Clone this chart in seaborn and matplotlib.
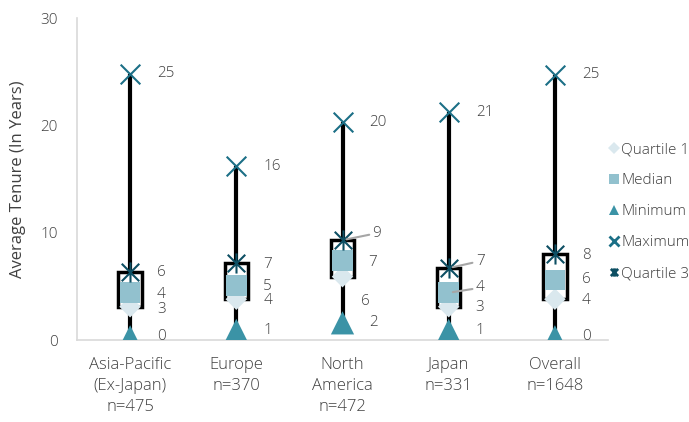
import matplotlib
matplotlib.use("Agg")
import matplotlib.pyplot as plt
from matplotlib.lines import Line2D
from matplotlib.path import Path
import seaborn as sns
import pandas as pd

regions = ["Asia-Pacific\n(Ex-Japan)\nn=475", "Europe\nn=370", "North\nAmerica\nn=472",
           "Japan\nn=331", "Overall\nn=1648"]
minimum = [0.3, 0.9, 1.6, 0.9, 0.3]
quartile1 = [3.1, 3.8, 5.9, 3.1, 3.8]
median = [4.4, 5.1, 7.4, 4.4, 5.6]
quartile3 = [6.3, 7.2, 9.3, 6.7, 8.0]
maximum = [24.8, 16.2, 20.3, 21.2, 24.7]

# star marker: an "x" crossed by a vertical stroke
star = Path([(-1, -1), (1, 1), (-1, 1), (1, -1), (0, -1.15), (0, 1.15)],
            [Path.MOVETO, Path.LINETO, Path.MOVETO, Path.LINETO, Path.MOVETO, Path.LINETO])

stats = ["Quartile 1", "Median", "Minimum", "Maximum", "Quartile 3"]
series = {"Quartile 1": quartile1, "Median": median, "Minimum": minimum,
          "Maximum": maximum, "Quartile 3": quartile3}
colors = {"Quartile 1": "#dae8ee", "Median": "#92c1ce", "Minimum": "#3b93a6",
          "Maximum": "#1b6f86", "Quartile 3": "#0d4f63"}
markers = {"Quartile 1": "D", "Median": "s", "Minimum": "^",
           "Maximum": "x", "Quartile 3": star}
sizes = {"Quartile 1": 120, "Median": 220, "Minimum": 280, "Maximum": 200, "Quartile 3": 210}

sns.set_theme(style="white")
plt.rcParams["font.family"] = ["Open Sans", "DejaVu Sans"]
plt.rcParams["font.weight"] = "light"
text_color = "#404040"

fig = plt.figure(figsize=(6.89, 4.22), dpi=100)
ax = fig.add_axes([77 / 689, 82 / 422, 531 / 689, 322 / 422])

xs = list(range(len(regions)))

# high-low lines
ax.vlines(xs, minimum, maximum, color="black", lw=3, zorder=1)
# quartile boxes
ax.bar(xs, [q3 - q1 for q1, q3 in zip(quartile1, quartile3)], bottom=quartile1,
       width=0.22, color="white", edgecolor="black", linewidth=2.5, zorder=2)

df = pd.DataFrame([{"x": x, "value": series[s][i], "stat": s}
                   for s in stats for i, x in enumerate(xs)])
for s in stats:
    sub = df[df["stat"] == s]
    lw = 1.5 if s in ("Maximum", "Quartile 3") else 0
    sns.scatterplot(data=sub, x="x", y="value", ax=ax, marker=markers[s],
                    s=sizes[s], color=colors[s], edgecolor=colors[s] if lw else "none",
                    linewidth=lw, zorder=3, legend=False)


def lab(i, v, dx=27, dy=0, leader=False):
    kw = {}
    if leader:
        kw["arrowprops"] = dict(arrowstyle="-", color="#a6a6a6", lw=1.5,
                                shrinkA=0, shrinkB=3)
    ax.annotate(f"{round(v)}", xy=(xs[i], v), xytext=(dx, dy), textcoords="offset pixels",
                ha="left", va="center", fontsize=11, color=text_color, **kw)


for i in range(len(regions)):
    lab(i, maximum[i])
    lab(i, minimum[i])

# Asia-Pacific
lab(0, quartile3[0]); lab(0, median[0], dy=-2); lab(0, quartile1[0], dy=-3)
# Europe
lab(1, quartile3[1], dy=-2); lab(1, median[1], dy=-1); lab(1, quartile1[1], dy=-1)
# North America
lab(2, quartile3[2], dx=30, dy=7, leader=True); lab(2, median[2], dx=26, dy=-2)
lab(2, quartile1[2], dx=19, dy=-25)
# Japan
lab(3, quartile3[3], dx=27, dy=7, leader=True); lab(3, median[3], dx=27, dy=5, leader=True)
lab(3, quartile1[3], dx=27, dy=-1)
# Overall
lab(4, quartile3[4], dy=-1); lab(4, median[4], dy=0); lab(4, quartile1[4], dy=-1)

ax.set_xlim(-0.5, len(regions) - 0.5)
ax.set_ylim(0, 30)
ax.set_yticks([0, 10, 20, 30])
ax.set_xticks(xs)
ax.set_xticklabels(regions, fontsize=12, color=text_color, linespacing=1.45)
ax.tick_params(axis="y", labelsize=11, labelcolor=text_color, pad=14, length=0)
ax.tick_params(axis="x", pad=12, length=0)
ax.set_xlabel("")
ax.set_ylabel("Average Tenure (In Years)", fontsize=12, color=text_color, labelpad=10)
ax.grid(False)
for side in ["top", "right"]:
    ax.spines[side].set_visible(False)
for side in ["left", "bottom"]:
    ax.spines[side].set_color("#d9d9d9")
    ax.spines[side].set_linewidth(1.2)

handles = []
for s in stats:
    lw = 2 if s in ("Maximum", "Quartile 3") else 0
    handles.append(Line2D([], [], linestyle="none", marker=markers[s], color=colors[s],
                          markeredgecolor=colors[s], markeredgewidth=lw,
                          markersize=7 if s not in ("Quartile 1", "Quartile 3") else 6,
                          label=s))
leg = fig.legend(handles=handles, loc="upper left", bbox_to_anchor=(603 / 689, 1 - 136 / 422),
                 frameon=False, fontsize=11, handlelength=0.6, handletextpad=0.2,
                 labelspacing=1.05, borderaxespad=0)
for t in leg.get_texts():
    t.set_color(text_color)

fig.savefig("out.png", dpi=100)
